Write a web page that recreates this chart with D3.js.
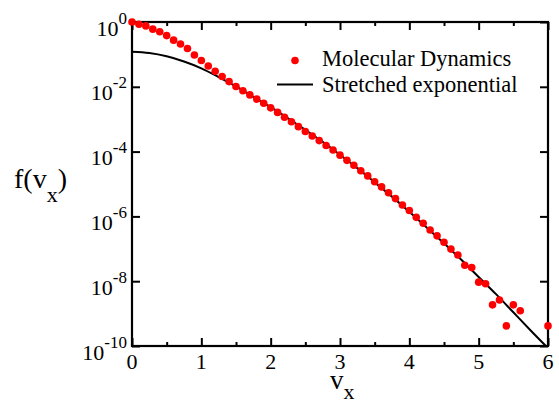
<!DOCTYPE html>
<html>
<head>
<meta charset="utf-8">
<script src="https://cdn.jsdelivr.net/npm/d3@7"></script>
<style>
html,body{margin:0;padding:0;background:#fff;}
svg{display:block;}
</style>
</head>
<body>
<svg id="chart" width="559" height="403" font-family="'Liberation Serif', 'DejaVu Serif', serif"></svg>
<script>
// ---- data ----
const mdV = [0,0.1,0.2,0.3,0.4,0.5,0.6,0.7,0.8,0.9,1.0,1.1,1.2,1.3,1.4,1.5,1.6,1.7,1.8,1.9,2.0,2.1,2.2,2.3,2.4,2.5,2.6,2.7,2.8,2.9,3.0,3.1,3.2,3.3,3.4,3.5,3.6,3.7,3.8,3.9,4.0,4.1,4.2,4.3,4.4,4.5,4.6,4.7,4.8,4.9,5.0,5.1,5.2,5.3,5.4,5.5,5.6,6.0];
const mdLog10 = [0,-0.07,-0.12,-0.22,-0.30,-0.42,-0.56,-0.68,-0.82,-1.02,-1.19,-1.36,-1.52,-1.68,-1.84,-1.99,-2.12,-2.25,-2.38,-2.51,-2.65,-2.79,-2.94,-3.08,-3.23,-3.38,-3.52,-3.66,-3.81,-3.95,-4.11,-4.27,-4.42,-4.59,-4.75,-4.93,-5.09,-5.27,-5.45,-5.65,-5.82,-6.03,-6.21,-6.42,-6.60,-6.80,-7.01,-7.19,-7.51,-7.58,-8.03,-8.08,-8.73,-8.58,-9.38,-8.73,-8.91,-9.38];
const fitV = [0,0.25,0.5,0.75,1.0,1.25,1.5,1.75,2.0,2.25,2.5,2.75,3.0,3.25,3.5,3.75,4.0,4.25,4.5,4.75,5.0,5.25,5.5,5.75,5.97];
const fitLog10 = [-0.92,-0.96,-1.06,-1.22,-1.43,-1.70,-1.99,-2.31,-2.63,-2.97,-3.33,-3.70,-4.10,-4.51,-4.95,-5.39,-5.86,-6.34,-6.83,-7.34,-7.87,-8.40,-8.96,-9.52,-10.0];
const xTicks = [0,1,2,3,4,5,6];
const xMinorTicks = [0.5,1.5,2.5,3.5,4.5,5.5];
const yTickExps = [0,-2,-4,-6,-8,-10];
const legendLabels = ["Molecular Dynamics","Stretched exponential"];

// ---- layout ----
const L = 132, R = 548, T = 22, B = 346;
const FONT = "'Liberation Serif', 'DejaVu Serif', serif";
const svg = d3.select("#chart");
const x = d3.scaleLinear().domain([0,6]).range([L,R]);
const y = d3.scaleLog().domain([1e-10,1]).range([B,T]);

const md = mdV.map((v,i)=>({v, f: Math.pow(10, mdLog10[i])}));
const fit = fitV.map((v,i)=>({v, f: Math.pow(10, fitLog10[i])}));

// fit line
const line = d3.line().x(d=>x(d.v)).y(d=>y(d.f)).curve(d3.curveCatmullRom);
svg.append("path").datum(fit).attr("d", line)
  .attr("fill","none").attr("stroke","#000").attr("stroke-width",2);

// frame
svg.append("rect").attr("x",L).attr("y",T).attr("width",R-L).attr("height",B-T)
  .attr("fill","none").attr("stroke","#000").attr("stroke-width",2.2);

// axes (ticks inward)
const major = 8, minor = 4;
const gx = svg.append("g").attr("transform",`translate(0,${B})`)
  .call(d3.axisBottom(x).tickValues(xTicks).tickSize(-major).tickFormat(""));
const gxm = svg.append("g").attr("transform",`translate(0,${B})`)
  .call(d3.axisBottom(x).tickValues(xMinorTicks).tickSize(-minor).tickFormat(""));
const gxt = svg.append("g").attr("transform",`translate(0,${T})`)
  .call(d3.axisTop(x).tickValues(xTicks).tickSize(-major).tickFormat(""));
const gxtm = svg.append("g").attr("transform",`translate(0,${T})`)
  .call(d3.axisTop(x).tickValues(xMinorTicks).tickSize(-minor).tickFormat(""));
const yTickVals = yTickExps.map(e=>Math.pow(10,e));
const gy = svg.append("g").attr("transform",`translate(${L},0)`)
  .call(d3.axisLeft(y).tickValues(yTickVals).tickSize(-major).tickFormat(""));
const gyr = svg.append("g").attr("transform",`translate(${R},0)`)
  .call(d3.axisRight(y).tickValues(yTickVals).tickSize(-major).tickFormat(""));
[gx,gxm,gxt,gxtm,gy,gyr].forEach(g=>{
  g.select(".domain").remove();
  g.selectAll(".tick line").attr("stroke","#000").attr("stroke-width",2);
});

const T_ = sel => sel.attr("font-family",FONT).attr("fill","#000");

// x tick labels
svg.append("g").selectAll("text").data(xTicks).join("text").call(T_)
  .attr("x",d=>x(d)).attr("y",369).attr("text-anchor","middle")
  .attr("font-size",22).text(d=>d);

// y tick labels
const yl = svg.append("g").selectAll("text").data(yTickExps).join("text").call(T_)
  .attr("x",127).attr("y",d=>y(Math.pow(10,d))+13.5).attr("text-anchor","end");
yl.append("tspan").attr("font-size",22).text("10");
yl.append("tspan").attr("font-size",17).attr("dy",-12).text(d=>d===0?"0":"-"+Math.abs(d));

// axis titles
const xt = svg.append("text").call(T_).attr("x",330).attr("y",389);
xt.append("tspan").attr("font-size",27).text("v");
xt.append("tspan").attr("font-size",22).attr("dy",10).text("x");

const yt = svg.append("text").call(T_).attr("x",14).attr("y",188);
yt.append("tspan").attr("font-size",28).text("f(v");
yt.append("tspan").attr("font-size",22).attr("dy",14).text("x");
yt.append("tspan").attr("font-size",28).attr("dy",-14).text(")");

// MD points
svg.append("g").selectAll("circle").data(md).join("circle")
  .attr("cx",d=>x(d.v)).attr("cy",d=>y(d.f)).attr("r",3.8).attr("fill","#ff0000");

// legend
const lg = svg.append("g");
lg.append("circle").attr("cx",295).attr("cy",60.5).attr("r",3.8).attr("fill","#ff0000");
lg.append("line").attr("x1",277).attr("x2",313).attr("y1",84.5).attr("y2",84.5)
  .attr("stroke","#000").attr("stroke-width",2);
lg.selectAll("text.lab").data(legendLabels).join("text").attr("class","lab").call(T_)
  .attr("x",322).attr("y",(d,i)=>66+i*25.5).attr("font-size",22.5).text(d=>d);
</script>
</body>
</html>
